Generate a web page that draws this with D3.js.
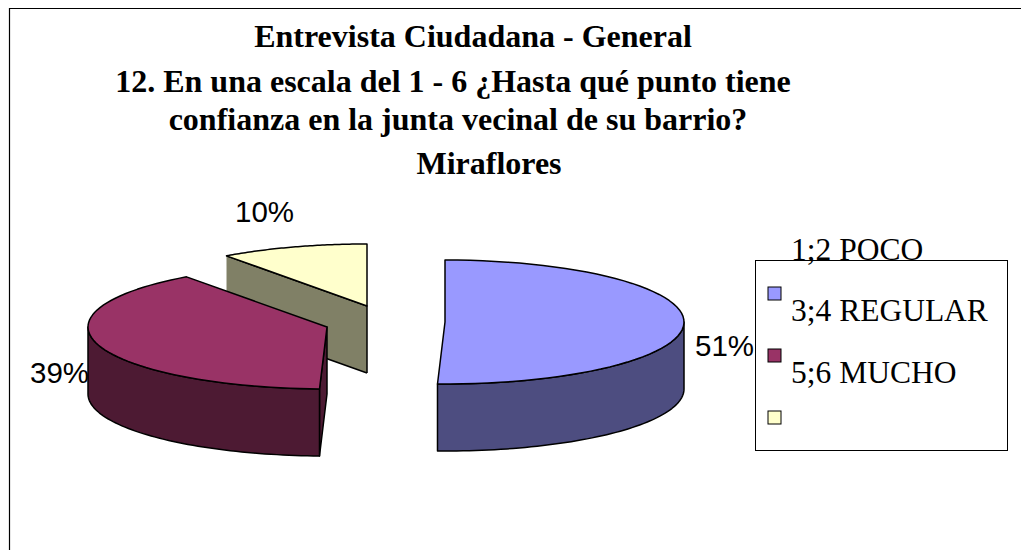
<!DOCTYPE html>
<html><head><meta charset="utf-8">
<script src="https://cdn.jsdelivr.net/npm/d3@7"></script>
<style>html,body{margin:0;padding:0;background:#fff}svg{display:block}</style></head>
<body><svg id="c" width="1021" height="550"></svg>
<script>
const titleLines = ["Entrevista Ciudadana - General","12. En una escala del 1 - 6 ¿Hasta qué punto tiene","confianza en la junta vecinal de su barrio?","Miraflores"];
const categories = ["1;2 POCO","3;4 REGULAR","5;6 MUCHO"];
const values = [50.5,39.5,10];
const labels = ["51%","39%","10%"];
const topColors = ["#9999FF","#993366","#FFFFCC"];
const wallColors = ["#4D4D80","#4D1A33","#808066"];
const centers = [[445,322],[327,327],[367,306]];

const svg = d3.select("#c");
const rx = 239, ry = 62, depth = 67;
svg.append("path").attr("d","M9.5,551V8.5H1022").attr("fill","none").attr("stroke","#000").attr("stroke-width",1.2);

const t = svg.append("g").attr("font-family","'Liberation Serif',serif").attr("font-weight","bold").attr("font-size",32).attr("text-anchor","middle");
[[473,47],[453,92],[458,130],[489,174]].forEach((p,i)=>t.append("text").attr("x",p[0]).attr("y",p[1]).text(titleLines[i]));

const pie = d3.pie().sort(null).startAngle(0).endAngle(2*Math.PI);
const arcs = pie(values);
const unitX = d3.scaleLinear().domain([-1,1]).range([-rx,rx]);
const unitY = d3.scaleLinear().domain([-1,1]).range([ry,-ry]);
const pt = (c,a,dy=0)=>[c[0]+unitX(Math.sin(a)),c[1]+unitY(Math.cos(a))+dy];
const samples = (a,b)=>d3.range(0,61).map(i=>a+(b-a)*i/60);
const line = d3.line();
const strokeAttrs = s=>s.attr("stroke","#000").attr("stroke-width",1.5).attr("stroke-linejoin","round");

function drawSlice(i){
  const d = arcs[i], c = centers[i];
  const g = svg.append("g");
  if(i===2){
    const a = d.startAngle;
    g.append("path").attr("d",line([pt(c,a),c,[c[0],c[1]+depth],pt(c,a,depth)])+"Z").attr("fill",wallColors[i]);
    g.append("path").attr("d",line([pt(c,a),c,[c[0],c[1]+depth]])).attr("fill","none").call(strokeAttrs);
    g.append("path").attr("d",line([[c[0],c[1]+depth],pt(c,a,depth)])).attr("fill","none").call(strokeAttrs);
  }
  if(i===1){
    const a=d.startAngle;
    g.append("path").attr("d",line([c,pt(c,a),pt(c,a,depth),[c[0],c[1]+depth]])+"Z").attr("fill",wallColors[i]).call(strokeAttrs);
  }
  const w0 = Math.max(d.startAngle,Math.PI/2), w1 = Math.min(d.endAngle,3*Math.PI/2);
  if(w1>w0){
    const f = samples(w0,w1).map(a=>pt(c,a));
    const b = samples(w1,w0).map(a=>pt(c,a,depth));
    g.append("path").attr("d",line(f.concat(b))+"Z").attr("fill",wallColors[i]).call(strokeAttrs);
  }
  const top=[c].concat(samples(d.startAngle,d.endAngle).map(a=>pt(c,a)));
  g.append("path").attr("d",line(top)+"Z").attr("fill",topColors[i]).call(strokeAttrs);
}
[2,1,0].forEach(drawSlice);

const lab = svg.append("g").attr("font-family","'Liberation Sans',sans-serif").attr("font-size",29.5);
[[695,356],[30,383],[235,222]].forEach((p,i)=>lab.append("text").attr("x",p[0]).attr("y",p[1]).text(labels[i]));

svg.append("rect").attr("x",755.5).attr("y",260.5).attr("width",252).attr("height",190).attr("fill","#fff").attr("stroke","#000").attr("stroke-width",1);
[287,349,411].forEach((y,i)=>svg.append("rect").attr("x",768).attr("y",y).attr("width",13).attr("height",13).attr("fill",topColors[i]).attr("stroke","#000").attr("stroke-width",1));
const leg = svg.append("g").attr("font-family","'Liberation Serif',serif").attr("font-size",31.5);
[260,321,383].forEach((y,i)=>leg.append("text").attr("x",791).attr("y",y).text(categories[i]));
</script></body></html>
